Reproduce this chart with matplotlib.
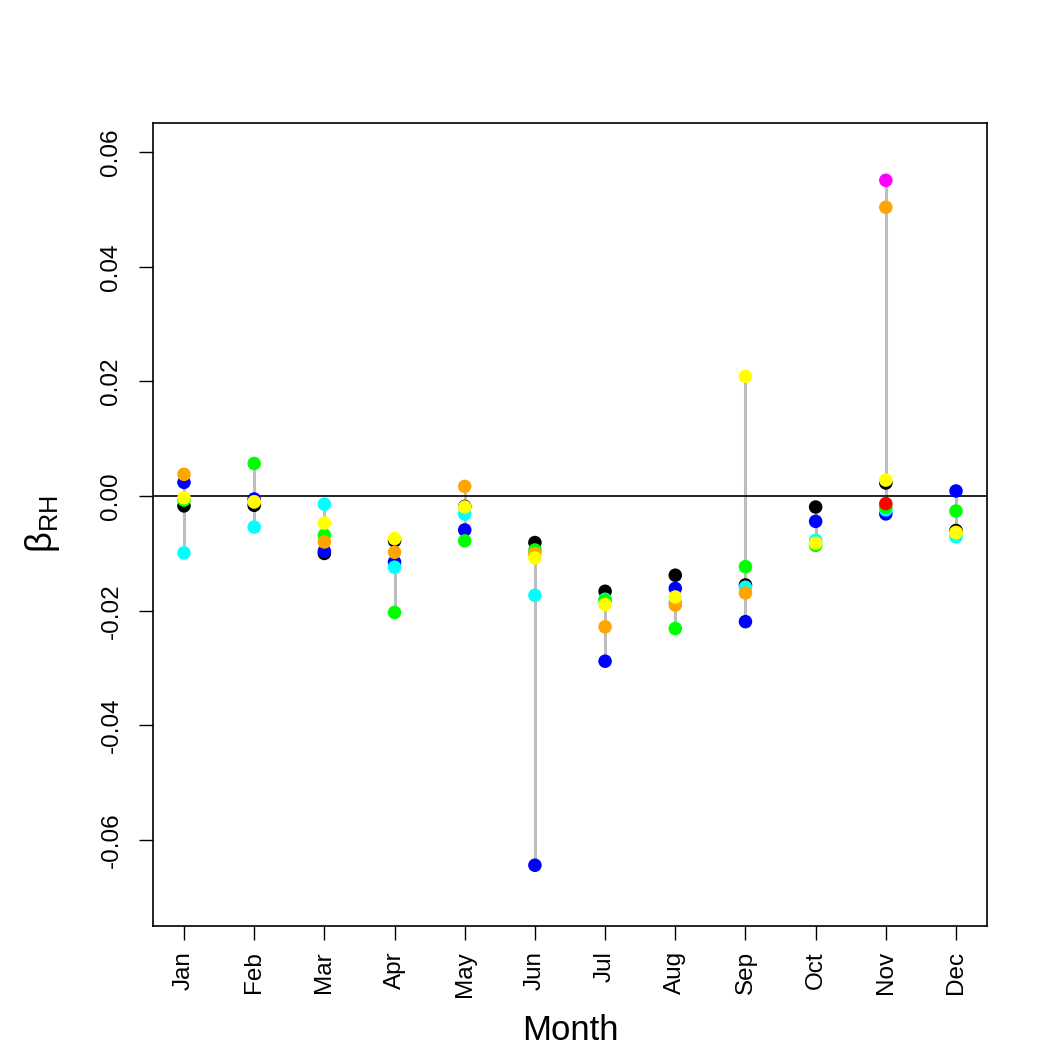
import numpy as np
import matplotlib
matplotlib.use("Agg")
import matplotlib.pyplot as plt

plt.rcParams['font.family'] = ['Liberation Sans', 'DejaVu Sans']
plt.rcParams['mathtext.fontset'] = 'custom'
plt.rcParams['mathtext.rm'] = 'Liberation Sans'
plt.rcParams['mathtext.it'] = 'Liberation Sans:italic'

months = ["Jan", "Feb", "Mar", "Apr", "May", "Jun", "Jul", "Aug", "Sep", "Oct", "Nov", "Dec"]
nan = np.nan

# series values per month (draw order matters)
black   = [-0.0017, -0.0016, -0.0100, -0.0078, -0.0018, -0.0081, -0.0166, -0.0138, -0.0155, -0.0019,  0.0023, -0.0060]
blue    = [ 0.0024, -0.0005, -0.0096, -0.0115, -0.0059, -0.0644, -0.0288, -0.0161, -0.0219, -0.0044, -0.0031,  0.0009]
cyan    = [-0.0099, -0.0054, -0.0014, -0.0124, -0.0031, -0.0173, -0.0180, -0.0185, -0.0159, -0.0077, -0.0024, -0.0071]
green   = [-0.0007,  0.0057, -0.0068, -0.0203, -0.0078, -0.0094, -0.0182, -0.0231, -0.0123, -0.0086, -0.0019, -0.0026]
red     = [nan, nan, nan, nan, nan, nan, nan, nan, nan, nan, -0.0013, nan]
magenta = [nan, nan, nan, nan, nan, nan, nan, nan, nan, nan,  0.0551, nan]
orange  = [ 0.0038, -0.0010, -0.0080, -0.0098,  0.0017, -0.0100, -0.0228, -0.0190, -0.0169, -0.0082,  0.0504, -0.0063]
yellow  = [-0.0003, -0.0010, -0.0047, -0.0074, -0.0019, -0.0108, -0.0189, -0.0176,  0.0209, -0.0082,  0.0028, -0.0064]

series = [(black, "black"), (blue, "#0000FF"), (cyan, "#00FFFF"), (green, "#00FF00"),
          (red, "#FF0000"), (magenta, "#FF00FF"), (orange, "#FFA500"), (yellow, "#FFFF00")]

yticks = [-0.06, -0.04, -0.02, 0.00, 0.02, 0.04, 0.06]

fig = plt.figure(figsize=(10.5, 10.5), dpi=100)
ax = fig.add_axes([153/1050, 1-926/1050, (987-153)/1050, (926-123)/1050])

x = np.arange(1, 13)
allv = np.array([s for s, _ in series], dtype=float)
lo = np.nanmin(allv, axis=0)
hi = np.nanmax(allv, axis=0)
ax.vlines(x, lo, hi, colors="#BEBEBE", linewidth=2.2, zorder=1)
ax.axhline(0, color="black", linewidth=1.2, zorder=2)

for vals, col in series:
    ax.scatter(x, vals, s=95, color=col, edgecolors='none', zorder=3)

ax.set_xlim(0.5585, 12.4415)
ax.set_ylim(-0.0750, 0.0651)
ax.set_xticks(x)
ax.set_xticklabels(months, rotation=90, fontsize=17.5)
ax.set_yticks(yticks)
ax.set_yticklabels([f"{v:.2f}" for v in yticks], rotation=90, va='center', fontsize=17.5)
ax.tick_params(axis='both', length=10, width=1.0, direction='out')
ax.tick_params(axis='x', pad=8)
ax.tick_params(axis='y', pad=12)
for sp in ax.spines.values():
    sp.set_linewidth(1.2)

fig.text(570/1050, 1-1030/1050, "Month", ha='center', va='center', fontsize=25)
fig.text(42/1050, 1-524/1050, "β$_{\\mathrm{RH}}$", ha='center', va='center', rotation=90, fontsize=26)

fig.savefig("out.png", dpi=100)
